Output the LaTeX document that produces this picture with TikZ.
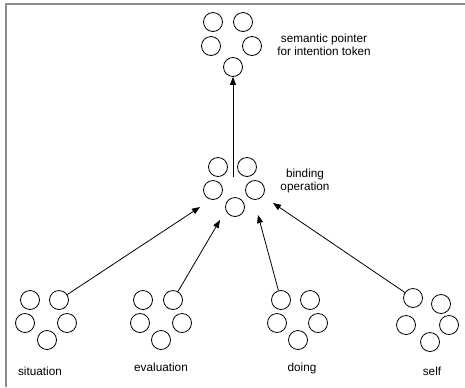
\documentclass[tikz,border=0pt]{standalone}
\usepackage{fontspec}
\setmainfont{Liberation Sans}
\usetikzlibrary{arrows.meta}
\begin{document}
\begin{tikzpicture}[x=1bp,y=-1bp,
  unit/.style={circle,draw,line width=0.8bp,minimum size=19bp,inner sep=0pt},
  lbl/.style={font=\fontsize{11.8}{12.6}\selectfont,align=center,inner sep=0pt},
  link/.style={line width=0.8bp,-{Triangle[length=8bp,width=6bp]}},
  frameline/.style={draw=black!45,line width=1.6bp}]
  \useasboundingbox (0,0) rectangle (465,387);
  % frame edges
  \draw[frameline] (465,4) -- (6,4) -- (6,387);

  % intention token population
  \node[unit] (t1) at (213,22) {};
  \node[unit] (t2) at (243,22) {};
  \node[unit] (t3) at (211,46) {};
  \node[unit] (t4) at (252,46) {};
  \node[unit] (t5) at (233,67) {};
  \node[lbl] (tl) at (324,45) {semantic pointer\\for intention token};

  % binding population
  \node[unit] (b1) at (218,167) {};
  \node[unit] (b2) at (247,167) {};
  \node[unit] (b3) at (213,190) {};
  \node[unit] (b4) at (255,190) {};
  \node[unit] (b5) at (235,207) {};
  \node[lbl] (bl) at (305,181) {binding\\operation};

  % situation
  \node[unit] (s1) at (30,300) {};
  \node[unit] (s2) at (59,300) {};
  \node[unit] (s3) at (25,323) {};
  \node[unit] (s4) at (67,323) {};
  \node[unit] (s5) at (47,340) {};
  \node[lbl,anchor=base] (sl) at (40,375) {situation};

  % evaluation
  \node[unit] (e1) at (143,300) {};
  \node[unit] (e2) at (173,300) {};
  \node[unit] (e3) at (140,323) {};
  \node[unit] (e4) at (182,323) {};
  \node[unit] (e5) at (161,340) {};
  \node[lbl,anchor=base] (el) at (161,371) {evaluation};

  % doing
  \node[unit] (d1) at (281,300) {};
  \node[unit] (d2) at (310,300) {};
  \node[unit] (d3) at (277,323) {};
  \node[unit] (d4) at (318,323) {};
  \node[unit] (d5) at (298,340) {};
  \node[lbl,anchor=base] (dl) at (302,371) {doing};

  % self
  \node[unit] (f1) at (413,298) {};
  \node[unit] (f2) at (441,304) {};
  \node[unit] (f3) at (406,325) {};
  \node[unit] (f4) at (449,325) {};
  \node[unit] (f5) at (430,342) {};
  \node[lbl,anchor=base] (fl) at (432,375) {self};

  % arrow ends near the binding population
  \coordinate (bs) at (233,177);
  \coordinate (ts) at (200,207);
  \coordinate (te) at (220,220);
  \coordinate (td) at (258,215);
  \coordinate (tf) at (273,203);

  \draw[link] (bs) -- (t5);
  \draw[link] (s2) -- (ts);
  \draw[link] (e2) -- (te);
  \draw[link] (d1) -- (td);
  \draw[link] (f1) -- (tf);
\end{tikzpicture}
\end{document}
